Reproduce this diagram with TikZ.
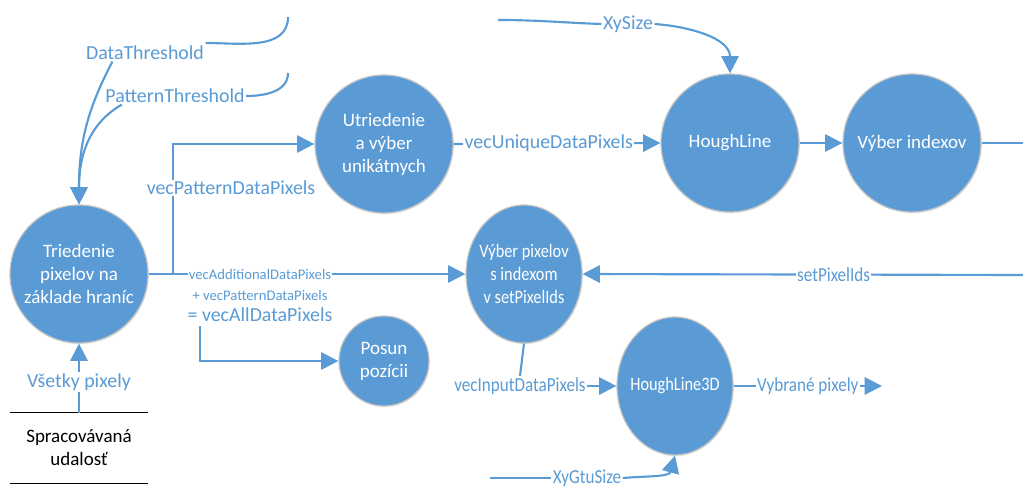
\documentclass[tikz,border=0pt]{standalone}
\usepackage{fontspec}
\setmainfont{Carlito}
\newfontfamily\narrowfont[FakeStretch=0.86]{Carlito}
\usetikzlibrary{arrows.meta,calc,shadows,shapes.geometric}
\definecolor{flowblue}{HTML}{5B9BD5}
\definecolor{rimgray}{HTML}{C4C4C4}
\begin{document}
\begin{tikzpicture}[x=0.75pt,y=-0.75pt,
  proc/.style={circle,fill=flowblue,draw=rimgray,line width=0.9pt,
    text=white,align=center,inner sep=0pt,minimum size=103.5pt,
    font=\fontsize{14.25pt}{17.25pt}\selectfont,
    drop shadow={shadow xshift=0.6pt,shadow yshift=-0.9pt,opacity=0.18,fill=gray}},
  procell/.style={proc,ellipse,inner xsep=-4pt,minimum width=87pt,minimum height=103.5pt,
    font=\narrowfont\fontsize{14.25pt}{17.25pt}\selectfont},
  lbl/.style={fill=white,text=flowblue,inner sep=1pt,
    font=\fontsize{14.9pt}{17.25pt}\selectfont},
  narrowlbl/.style={lbl,font=\narrowfont\fontsize{14.9pt}{17.25pt}\selectfont},
  smalllbl/.style={lbl,font=\fontsize{11pt}{13pt}\selectfont},
  flow/.style={draw=flowblue,line width=1.6pt,-{Triangle[length=13pt,width=13pt]}},
  link/.style={draw=flowblue,line width=1.6pt},
]
\useasboundingbox (0,0) rectangle (1023,489);

% processes
\node[proc] (tried) at (79,274) {Triedenie\\pixelov na\\základe hraníc};
\node[proc] (utr) at (384,144) {Utriedenie\\a výber\\unikátnych};
\node[proc] (hough) at (730,143) {HoughLine};
\node[proc] (vidx) at (912,143) {Výber indexov};
\node[procell] (vpx) at (524,274) {Výber pixelov\\s indexom\\v setPixelIds};
\node[procell] (h3d) at (675,386) {HoughLine3D};
\node[proc,minimum size=67.5pt] (posun) at (384,361) {Posun\\pozícii};

% data store
\node[minimum width=103.5pt,minimum height=52.5pt,inner sep=0pt,align=center,
  font=\fontsize{14.25pt}{17.25pt}\selectfont] (store) at (79,448) {Spracovávaná\\udalosť};
\draw[line width=1.1pt] (store.north west) -- (store.north east);
\draw[line width=1.1pt] (store.south west) -- (store.south east);

% free ends
\coordinate (dt0) at (288,17);
\coordinate (pt0) at (288,73);
\coordinate (xs0) at (498,20);
\coordinate (xg0) at (490,478);
\coordinate (rightA) at (1023,143);
\coordinate (rightB) at (1023,275);
\coordinate (outend) at (882,386);
\coordinate (brk) at (200,326);

% thresholds into the sorting step
\node[lbl] (dthr) at (145,53) {DataThreshold};
\node[lbl] (pthr) at (175,96) {PatternThreshold};
\draw[link] (dt0) to[out=-90,in=0] ($(dthr.east)+(0,-10)$);
\draw[link] (pt0) to[out=-90,in=0] (pthr.east);
\draw[flow] ($(dthr.south west)+(28,0)$) to[out=-118,in=90] (tried.north);
\draw[flow] ($(pthr.south west)+(18,0)$) to[out=-150,in=90] (tried.north);

% input from the data store
\node[lbl] (vset) at (79,382) {Všetky pixely};
\draw[link] (store.north) -- (vset.south);
\draw[flow] (vset.north) -- (tried.south);

% sorting outputs
\draw[flow] (tried.east) -- ++(24,0) |- (utr.west);
\node[lbl] (lpat) at (231,188) {vecPatternDataPixels};
\draw[flow] (tried.east) -- (vpx.west);
\node[smalllbl] (la) at (260,274) {vecAdditionalDataPixels};
\node[smalllbl] (lb) at (260,295) {+ vecPatternDataPixels};
\node[lbl] (lc) at (260,315) {= vecAllDataPixels};
\draw[flow] (brk) |- (posun.west);

% top row
\draw[flow] (utr.east) -- node[lbl,pos=0.46] (luniq) {vecUniqueDataPixels} (hough.west);
\draw[flow] (hough.east) -- (vidx.west);
\draw[link] (vidx.east) -- (rightA);
\node[lbl] (xysz) at (628,24) {XySize};
\draw[link] (xs0) to[out=0,in=178] (xysz.west);
\draw[flow] (xysz.east) to[out=-4,in=90] (hough.north);

% selection by index
\draw[flow] (rightB) -- node[narrowlbl,pos=0.43] (lset) {setPixelIds} (vpx.east);
\node[narrowlbl] (lin) at (520,386) {vecInputDataPixels};
\draw[link] (vpx.south) -- (lin.north);
\draw[flow] (lin.east) -- (h3d.west);
\draw[flow] (h3d.east) -- node[narrowlbl] (lsel) {Vybrané pixely} (outend);
\node[narrowlbl] (xygt) at (587,478) {XyGtuSize};
\draw[link] (xg0) -- (xygt.west);
\draw[flow] (xygt.east) to[out=5,in=-105] (h3d.south);
\end{tikzpicture}
\end{document}
